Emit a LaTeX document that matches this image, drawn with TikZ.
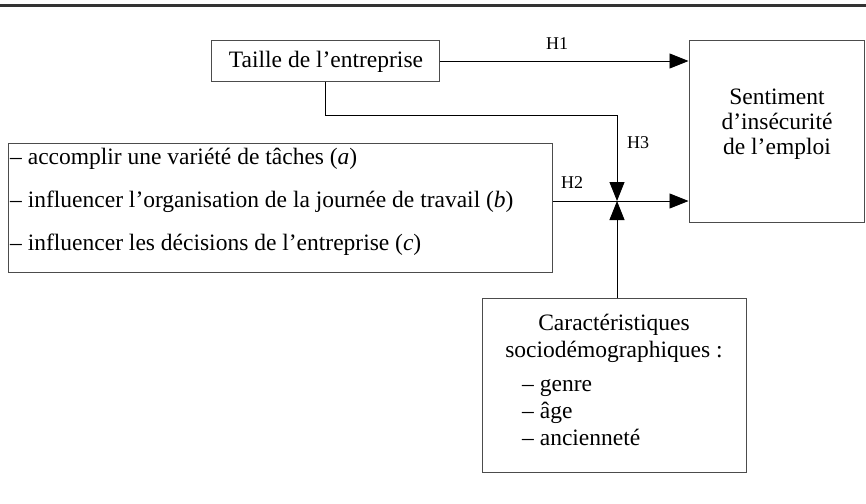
\documentclass[tikz,border=0pt]{standalone}
\usepackage{fontspec}
\setmainfont{Liberation Serif}
\usetikzlibrary{arrows.meta}
\begin{document}
\begin{tikzpicture}[x=1pt,y=-1pt,
  box/.style={draw=black!70,line width=1pt,rectangle,inner sep=0pt},
  txt/.style={font=\fontsize{23.5}{27}\selectfont,inner sep=0pt},
  hlab/.style={font=\fontsize{18}{20}\selectfont,inner sep=0pt},
  conn/.style={draw=black,line width=0.9pt},
  arr/.style={conn,-{Triangle[length=19pt,width=15pt]}}]
\useasboundingbox (0,0) rectangle (866,503);
\draw[line width=3pt,black!80] (0,6) -- (866,6);
% boxes
\node[box,minimum width=228pt,minimum height=40pt] (taille) at (325,61) {};
\node[txt] (tailletxt) at (326,62) {Taille de l’entreprise};
\node[box,minimum width=175pt,minimum height=181pt] (sent) at (776.5,131.5) {};
\node[txt,align=center,font=\fontsize{23.5}{25}\selectfont] (senttxt) at (777,124) {Sentiment\\d’insécurité\\de l’emploi};
\node[box,minimum width=544pt,minimum height=129pt] (cbox) at (280,207.5) {};
\node[txt,anchor=west,align=left,font=\fontsize{23.5}{43}\selectfont] (ctxt) at (10,202) {– accomplir une variété de tâches (\textit{a})\\– influencer l’organisation de la journée de travail (\textit{b})\\– influencer les décisions de l’entreprise (\textit{c})};
\node[box,minimum width=264pt,minimum height=174pt] (carac) at (614,385) {};
\node[txt,align=center,font=\fontsize{23.5}{27}\selectfont] (caractitle) at (614,338) {Caractéristiques\\sociodémographiques :};
\node[txt,anchor=west,align=left,font=\fontsize{23.5}{27}\selectfont] (caraclist) at (522,413) {– genre\\– âge\\– ancienneté};
% junction
\coordinate (J) at (617,201);
\coordinate (bend1) at (325,115);
\coordinate (bend2) at (617,115);
% connectors
\draw[arr] (taille.east) -- (sent.west |- taille.east);
\draw[arr] (taille.south) -- (bend1) -- (bend2) -- (J);
\draw[arr] (cbox.east |- J) -- (sent.west |- J);
\draw[arr] (carac.north -| J) -- (J);
% labels
\node[hlab] (h1) at (557,44) {H1};
\node[hlab] (h2) at (572,183) {H2};
\node[hlab] (h3) at (638,143) {H3};
\end{tikzpicture}
\end{document}
